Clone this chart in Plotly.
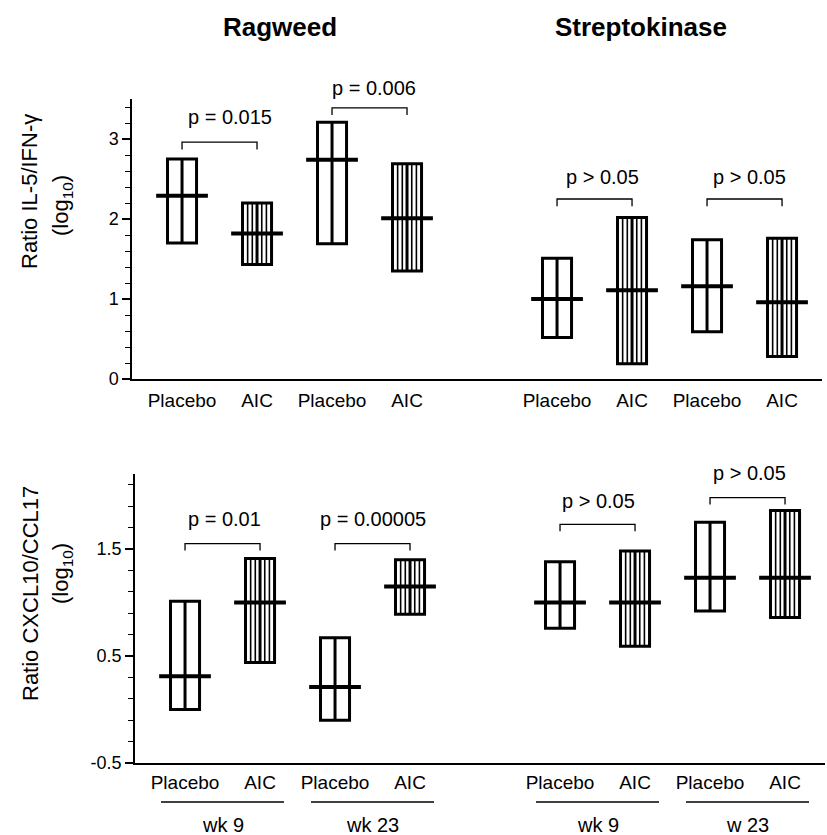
import plotly.graph_objects as go

# ---------------- data ----------------
groups = ["Placebo", "AIC", "Placebo", "AIC", "Placebo", "AIC", "Placebo", "AIC"]
positions = [1, 2, 3, 4, 6, 7, 8, 9]
is_aic = [False, True, False, True, False, True, False, True]

top_low = [1.70, 1.43, 1.69, 1.35, 0.52, 0.19, 0.59, 0.28]
top_high = [2.75, 2.20, 3.21, 2.69, 1.51, 2.02, 1.74, 1.76]
top_med = [2.29, 1.82, 2.74, 2.01, 1.00, 1.11, 1.16, 0.96]

bot_low = [0.00, 0.44, -0.10, 0.89, 0.76, 0.59, 0.92, 0.86]
bot_high = [1.01, 1.41, 0.67, 1.40, 1.38, 1.48, 1.75, 1.86]
bot_med = [0.31, 1.00, 0.21, 1.15, 1.00, 1.00, 1.23, 1.23]

bracket_pairs = [(1, 2), (3, 4), (6, 7), (8, 9)]
top_p_text = ["p = 0.015", "p = 0.006", "p > 0.05", "p > 0.05"]
top_bracket_y = [2.96, 3.39, 2.25, 2.25]
top_text_x = [1.64, 3.56, 6.61, 8.57]
top_text_y = [3.27, 3.64, 2.52, 2.52]

bot_p_text = ["p = 0.01", "p = 0.00005", "p > 0.05", "p > 0.05"]
bot_bracket_y = [1.55, 1.55, 1.73, 1.98]
bot_text_x = [1.52, 3.51, 6.51, 8.53]
bot_text_y = [1.78, 1.78, 1.95, 2.21]

week_labels = ["wk 9", "wk 23", "wk 9", "w 23"]
panel_titles = ["Ragweed", "Streptokinase"]
top_ytitle = ["Ratio IL-5/IFN-γ", "(log<sub>10</sub>)"]
bot_ytitle = ["Ratio CXCL10/CCL17", "(log<sub>10</sub>)"]

# ---------------- layout geometry ----------------
W, H = 827, 835
FONT = "Liberation Sans, Arial, Helvetica, sans-serif"
XR = [0.333, 9.533]
TOP_YR = [0, 3.5]
BOT_YR = [-0.5, 2.2]
TOP_DOM = [1 - 379 / H, 1 - 99 / H]
BOT_DOM = [1 - 763 / H, 1 - 474 / H]
BOX_W = 0.387
MED_HALF = 0.345
STRIPE_OFFSETS = [-0.125, -0.063, 0.063, 0.125]


def px(x):
    return x / W


def py(y):
    return 1 - y / H


def val_to_paper(v, rng, dom):
    return dom[0] + (v - rng[0]) / (rng[1] - rng[0]) * (dom[1] - dom[0])


fig = go.Figure()


def add_panel(low, high, med, xa, ya, rng, dom, leg_drop, brackets, texts_x, texts_y, texts):
    fig.add_trace(go.Bar(
        x=positions, base=low, y=[h - l for h, l in zip(high, low)],
        width=BOX_W, marker=dict(color="white", line=dict(color="black", width=3)),
        xaxis=xa, yaxis=ya, showlegend=False, hoverinfo="skip"))
    # hatching stripes for AIC boxes
    sx, sy = [], []
    for i, p in enumerate(positions):
        if is_aic[i]:
            for o in STRIPE_OFFSETS:
                sx += [p + o, p + o, None]
                sy += [low[i], high[i], None]
    fig.add_trace(go.Scatter(x=sx, y=sy, mode="lines",
                             line=dict(color="black", width=1.6),
                             xaxis=xa, yaxis=ya, showlegend=False, hoverinfo="skip"))
    # center vertical lines
    cx, cy = [], []
    for i, p in enumerate(positions):
        cx += [p, p, None]
        cy += [low[i], high[i], None]
    fig.add_trace(go.Scatter(x=cx, y=cy, mode="lines",
                             line=dict(color="black", width=3),
                             xaxis=xa, yaxis=ya, showlegend=False, hoverinfo="skip"))
    # medians
    mx, my = [], []
    for i, p in enumerate(positions):
        mx += [p - MED_HALF, p + MED_HALF, None]
        my += [med[i], med[i], None]
    fig.add_trace(go.Scatter(x=mx, y=my, mode="lines",
                             line=dict(color="black", width=4),
                             xaxis=xa, yaxis=ya, showlegend=False, hoverinfo="skip"))
    # brackets
    bx, by = [], []
    for (a, b), yb in zip(bracket_pairs, brackets):
        bx += [a, a, b, b, None]
        by += [yb - leg_drop, yb, yb, yb - leg_drop, None]
    fig.add_trace(go.Scatter(x=bx, y=by, mode="lines",
                             line=dict(color="black", width=1.3),
                             xaxis=xa, yaxis=ya, showlegend=False, hoverinfo="skip"))
    for tx, ty, t in zip(texts_x, texts_y, texts):
        fig.add_annotation(x=tx, y=val_to_paper(ty, rng, dom), xref=xa, yref="paper",
                           text=t, showarrow=False, xanchor="center", yanchor="middle",
                           font=dict(size=20, family=FONT, color="black"))


add_panel(top_low, top_high, top_med, "x", "y", TOP_YR, TOP_DOM, 0.09, top_bracket_y,
          top_text_x, top_text_y, top_p_text)
add_panel(bot_low, bot_high, bot_med, "x2", "y2", BOT_YR, BOT_DOM, 0.065, bot_bracket_y,
          bot_text_x, bot_text_y, bot_p_text)

axis_common = dict(showgrid=False, zeroline=False, showline=True, linecolor="black",
                   linewidth=1.5, automargin=False)
xcommon = dict(axis_common, range=XR, tickmode="array", tickvals=positions,
               ticktext=groups, ticks="", tickfont=dict(size=19, family=FONT, color="black"))

fig.update_layout(
    width=W, height=H, margin=dict(l=0, r=0, t=0, b=0, pad=0),
    paper_bgcolor="white", plot_bgcolor="white", barmode="overlay",
    showlegend=False,
    xaxis=dict(xcommon, domain=[px(132), px(822)], anchor="y", ticklabelstandoff=3),
    yaxis=dict(axis_common, domain=TOP_DOM, range=TOP_YR, anchor="x",
               tickmode="linear", tick0=0, dtick=1, ticks="outside", ticklen=8,
               tickwidth=1.5, tickcolor="black",
               tickfont=dict(size=18, family=FONT, color="black"),
               minor=dict(tickmode="linear", tick0=0, dtick=0.2, ticks="outside",
                          ticklen=5, tickwidth=1.2, tickcolor="black")),
    xaxis2=dict(xcommon, domain=[px(135), px(825)], anchor="y2", ticklabelstandoff=1),
    yaxis2=dict(axis_common, domain=BOT_DOM, range=BOT_YR, anchor="x2",
                tickmode="array", tickvals=[-0.5, 0.5, 1.5],
                ticktext=["-0.5", "0.5", "1.5"], ticks="outside", ticklen=8,
                tickwidth=1.5, tickcolor="black",
                tickfont=dict(size=18, family=FONT, color="black"),
                minor=dict(tickmode="linear", tick0=-0.5, dtick=0.2, ticks="outside",
                           ticklen=5, tickwidth=1.2, tickcolor="black")),
)

# panel titles
for t, xc in zip(panel_titles, [280, 641]):
    fig.add_annotation(x=px(xc), y=py(27), xref="paper", yref="paper", text=f"<b>{t}</b>",
                       showarrow=False, xanchor="center", yanchor="middle",
                       font=dict(size=26, family=FONT, color="black"))

# y-axis titles
for txt, xc, yc in zip(top_ytitle, [30, 62], [192, 206]):
    fig.add_annotation(x=px(xc), y=py(yc), xref="paper", yref="paper", text=txt,
                       textangle=-90, showarrow=False, xanchor="center", yanchor="middle",
                       font=dict(size=22, family=FONT, color="black"))
for txt, xc, yc in zip(bot_ytitle, [30, 62], [594, 574]):
    fig.add_annotation(x=px(xc), y=py(yc), xref="paper", yref="paper", text=txt,
                       textangle=-90, showarrow=False, xanchor="center", yanchor="middle",
                       font=dict(size=22, family=FONT, color="black"))

# week underlines and labels
for (a, b), wl in zip(bracket_pairs, week_labels):
    mid = (a + b) / 2
    fig.add_shape(type="line", xref="x2", yref="paper", x0=mid - 0.82, x1=mid + 0.82,
                  y0=py(802), y1=py(802), line=dict(color="black", width=1.3))
    fig.add_annotation(x=mid, y=py(825), xref="x2", yref="paper", text=wl,
                       showarrow=False, xanchor="center", yanchor="middle",
                       font=dict(size=20, family=FONT, color="black"))

fig.write_html("out.html", config={"displayModeBar": False},
               post_script="document.body.style.margin='0px';"
                           "document.body.style.overflow='hidden';")
